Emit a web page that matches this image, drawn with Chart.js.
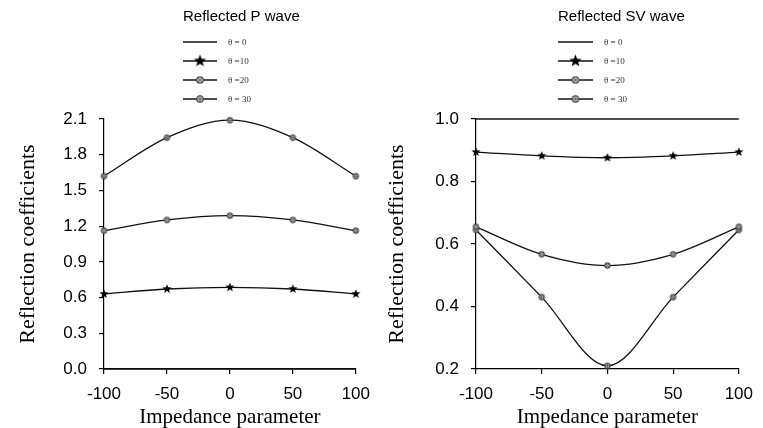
<!DOCTYPE html>
<html><head><meta charset="utf-8">
<script src="https://cdn.jsdelivr.net/npm/chart.js@4/dist/chart.umd.min.js"></script>
<style>
html,body{margin:0;padding:0;background:#fff;}
#wrap{position:relative;width:763px;height:428px;overflow:hidden;background:#fff;}
#c1{position:absolute;left:0;top:0;}
#c2{position:absolute;left:380px;top:0;}
</style></head><body>
<div id="wrap"><canvas id="c1" width="380" height="428"></canvas><canvas id="c2" width="383" height="428"></canvas></div>
<script>
// ---- data ----
const impedance = [-100, -50, 0, 50, 100];
const legendLabels = ['θ = 0', 'θ =10', 'θ =20', 'θ = 30'];
const pTheta0  = [0, 0, 0, 0, 0];
const pTheta10 = [0.630, 0.672, 0.686, 0.672, 0.630];
const pTheta20 = [1.162, 1.252, 1.288, 1.252, 1.162];
const pTheta30 = [1.620, 1.943, 2.090, 1.943, 1.620];
const svTheta0  = [1, 1, 1, 1, 1];
const svTheta10 = [0.894, 0.882, 0.876, 0.882, 0.894];
const svTheta20 = [0.655, 0.567, 0.531, 0.567, 0.655];
const svTheta30 = [0.645, 0.430, 0.210, 0.430, 0.645];
const pTicks = [0, 0.3, 0.6, 0.9, 1.2, 1.5, 1.8, 2.1];
const svTicks = [0.2, 0.4, 0.6, 0.8, 1.0];
const xTicks = [-100, -50, 0, 50, 100];

// ---- marker images ----
function makeStar(r, color) {
  const s = Math.ceil(r * 2 + 2);
  const c = document.createElement('canvas'); c.width = s; c.height = s;
  const g = c.getContext('2d'); g.fillStyle = color; g.beginPath();
  for (let i = 0; i < 10; i++) {
    const a = -Math.PI / 2 + i * Math.PI / 5;
    const rr = i % 2 ? r * 0.42 : r;
    g.lineTo(s / 2 + rr * Math.cos(a), s / 2 + rr * Math.sin(a));
  }
  g.closePath(); g.fill();
  return c;
}
function makeCircle(r, kind) {
  const s = Math.ceil(r * 2 + 3);
  const c = document.createElement('canvas'); c.width = s; c.height = s;
  const g = c.getContext('2d'); const m = s / 2;
  g.strokeStyle = '#444'; g.lineWidth = 1.1;
  g.fillStyle = '#bbb';
  g.beginPath(); g.arc(m, m, r, 0, Math.PI * 2); g.fill(); g.stroke();
  g.lineWidth = 0.8; g.strokeStyle = '#555'; g.beginPath();
  if (kind === 'x') {
    const d = r * 0.7;
    g.moveTo(m - d, m - d); g.lineTo(m + d, m + d);
    g.moveTo(m + d, m - d); g.lineTo(m - d, m + d);
  } else {
    g.moveTo(m - r, m); g.lineTo(m + r, m);
    g.moveTo(m, m - r); g.lineTo(m, m + r);
  }
  g.stroke();
  return c;
}
const starPt = makeStar(4.8, '#000');
const xPt = makeCircle(2.6, 'x');
const plusPt = makeCircle(2.6, '+');
const starLeg = makeStar(6.5, '#000');
const xLeg = makeCircle(3.3, 'x');
const plusLeg = makeCircle(3.3, '+');

const LINE = '#111';
function ds(label, data, pt, leg) {
  return {
    label, data: impedance.map((x, i) => ({ x, y: data[i] })),
    borderColor: LINE, backgroundColor: LINE, borderWidth: 1.3,
    cubicInterpolationMode: 'monotone', pointStyle: pt || false, pointRadius: pt ? 5 : 0,
    pointHoverRadius: 0, clip: false, legendImg: leg
  };
}

const legendPlugin = {
  id: 'customLegend',
  afterDraw(chart, args, o) {
    const ctx = chart.ctx;
    ctx.save();
    ctx.fillStyle = '#000';
    ctx.font = '15px "Liberation Sans", Arial, sans-serif';
    ctx.textBaseline = 'alphabetic';
    ctx.textAlign = 'left';
    ctx.fillText(o.title, o.titleX, 21);
    const rows = [42, 61, 80, 99];
    chart.data.datasets.forEach((d, i) => {
      const y = rows[i];
      ctx.strokeStyle = LINE; ctx.lineWidth = 1.3;
      ctx.beginPath(); ctx.moveTo(o.lineX0, y); ctx.lineTo(o.lineX1, y); ctx.stroke();
      if (d.legendImg) {
        const im = d.legendImg;
        ctx.drawImage(im, (o.lineX0 + o.lineX1) / 2 - im.width / 2, y - im.height / 2);
      }
      ctx.fillStyle = '#333';
      ctx.font = '9px "Liberation Serif", "Times New Roman", serif';
      ctx.textBaseline = 'middle';
      ctx.fillText(legendLabels[i], o.textX, y + 0.5);
    });
    ctx.restore();
  }
};

function makeChart(id, sets, yMin, yMax, yTicks, yWidth, padRight, yTitlePad, legendOpts) {
  return new Chart(document.getElementById(id), {
    type: 'line',
    data: { datasets: sets },
    plugins: [legendPlugin],
    options: {
      responsive: false, animation: false, devicePixelRatio: 1,
      layout: { padding: { left: 0, right: padRight, top: 119, bottom: 0 } },
      plugins: { legend: { display: false }, tooltip: { enabled: false }, customLegend: legendOpts },
      scales: {
        x: {
          type: 'linear', min: -100, max: 100,
          afterFit(s) { s.height = 59; },
          afterBuildTicks(s) { s.ticks = xTicks.map(v => ({ value: v })); },
          border: { color: '#000', width: 1.2 },
          grid: { drawOnChartArea: false, tickLength: 5, color: '#000', lineWidth: 1.2 },
          ticks: { color: '#000', font: { family: '"Liberation Sans", Arial, sans-serif', size: 17 }, padding: 10, maxRotation: 0, autoSkip: false },
          title: { display: true, text: 'Impedance parameter', color: '#000', font: { family: '"Liberation Serif", "Times New Roman", serif', size: 21, lineHeight: 1 }, padding: { top: 0, bottom: 0 } }
        },
        y: {
          min: yMin, max: yMax,
          afterFit(s) { s.width = yWidth; },
          afterBuildTicks(s) { s.ticks = yTicks.map(v => ({ value: v })); },
          border: { color: '#000', width: 1.2 },
          grid: { drawOnChartArea: false, tickLength: 5, color: '#000', lineWidth: 1.2 },
          ticks: { color: '#000', font: { family: '"Liberation Sans", Arial, sans-serif', size: 17 }, padding: 12, callback: v => Number(v).toFixed(1) },
          title: { display: true, text: 'Reflection coefficients', color: '#000', font: { family: '"Liberation Serif", "Times New Roman", serif', size: 22, lineHeight: 1 }, padding: { top: yTitlePad, bottom: 0 } }
        }
      }
    }
  });
}

makeChart('c1', [
  ds(legendLabels[0], pTheta0, null, null),
  ds(legendLabels[1], pTheta10, starPt, starLeg),
  ds(legendLabels[2], pTheta20, xPt, xLeg),
  ds(legendLabels[3], pTheta30, plusPt, plusLeg)
], 0, 2.1, pTicks, 104, 21, 17, { title: 'Reflected P wave', titleX: 183, lineX0: 183, lineX1: 217, textX: 228 });

makeChart('c2', [
  ds(legendLabels[0], svTheta0, null, null),
  ds(legendLabels[1], svTheta10, starPt, starLeg),
  ds(legendLabels[2], svTheta20, xPt, xLeg),
  ds(legendLabels[3], svTheta30, plusPt, plusLeg)
], 0.2, 1.0, svTicks, 96, 21, 6, { title: 'Reflected SV wave', titleX: 178, lineX0: 178, lineX1: 213, textX: 224 });
</script>
</body></html>
